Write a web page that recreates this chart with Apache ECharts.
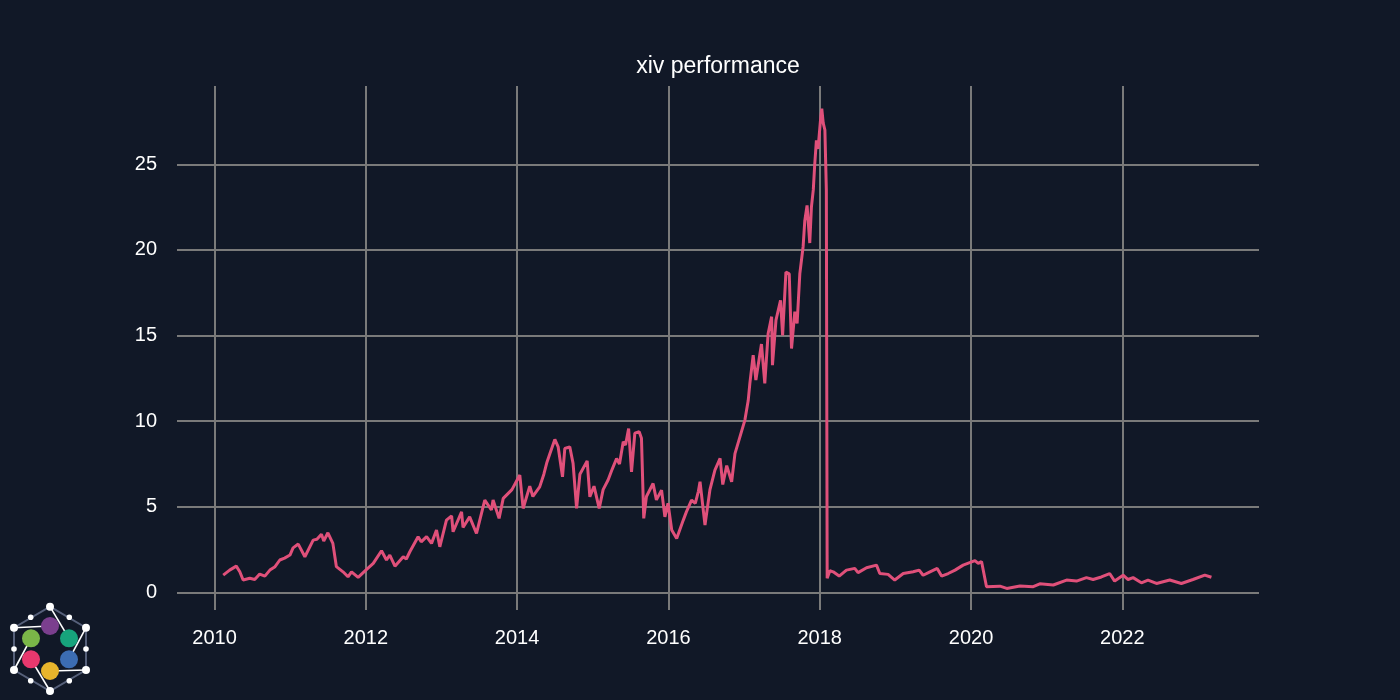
<!DOCTYPE html>
<html>
<head>
<meta charset="utf-8">
<title>xiv performance</title>
<script src="https://cdn.jsdelivr.net/npm/echarts@6/dist/echarts.min.js"></script>
<style>
  html, body { margin: 0; padding: 0; background: #111827; }
  #chart { width: 1400px; height: 700px; }
</style>
</head>
<body>
<div id="chart"></div>
<script>
// values (roughly every few weeks, peaks and dips kept)
const dates = [
  '2010-02-12', '2010-03-15', '2010-04-16', '2010-05-03', '2010-05-19', '2010-06-20', '2010-07-14', '2010-08-07', '2010-09-01', '2010-09-25', '2010-10-20', '2010-11-12', '2010-12-05', '2010-12-31',
  '2011-01-15', '2011-02-09', '2011-03-13', '2011-04-22', '2011-05-10', '2011-06-01', '2011-06-12', '2011-07-02', '2011-07-26', '2011-08-12', '2011-09-13', '2011-10-07', '2011-10-24', '2011-11-25',
  '2012-01-05', '2012-02-06', '2012-03-17', '2012-04-10', '2012-04-26', '2012-05-21', '2012-06-30', '2012-07-15', '2012-08-01', '2012-09-10', '2012-09-25', '2012-10-21', '2012-11-14', '2012-12-08', '2012-12-24',
  '2013-01-25', '2013-02-19', '2013-02-26', '2013-04-08', '2013-04-15', '2013-05-17', '2013-06-19', '2013-07-29', '2013-08-30', '2013-09-07', '2013-10-06', '2013-10-26', '2013-12-07',
  '2014-01-14', '2014-01-30', '2014-03-03', '2014-03-18', '2014-04-20', '2014-05-10', '2014-05-25', '2014-06-08', '2014-07-02', '2014-07-18', '2014-08-08', '2014-08-19', '2014-09-12', '2014-09-28', '2014-10-15', '2014-10-31', '2014-12-05', '2014-12-18',
  '2015-01-07', '2015-02-01', '2015-02-20', '2015-03-16', '2015-04-05', '2015-04-26', '2015-05-10', '2015-05-28', '2015-06-08', '2015-06-23', '2015-07-07', '2015-07-23', '2015-08-13', '2015-08-24', '2015-09-04', '2015-09-17', '2015-10-19', '2015-11-04', '2015-11-29', '2015-12-15', '2015-12-30',
  '2016-01-17', '2016-02-10', '2016-03-13', '2016-03-28', '2016-04-22', '2016-05-10', '2016-05-25', '2016-06-02', '2016-06-26', '2016-07-20', '2016-08-13', '2016-09-07', '2016-09-20', '2016-10-09', '2016-11-02', '2016-11-18', '2016-12-12',
  '2017-01-05', '2017-01-21', '2017-01-29', '2017-02-14', '2017-02-27', '2017-03-26', '2017-04-11', '2017-04-27', '2017-05-14', '2017-05-18', '2017-06-04', '2017-06-26', '2017-07-06', '2017-07-22',
  '2017-08-07', '2017-08-18', '2017-09-03', '2017-09-14', '2017-09-27', '2017-10-13', '2017-10-21', '2017-11-01', '2017-11-14', '2017-11-22', '2017-12-01', '2017-12-08', '2017-12-16', '2017-12-24',
  '2018-01-05', '2018-01-11', '2018-01-18', '2018-01-26', '2018-02-02', '2018-02-06', '2018-02-19', '2018-03-07', '2018-04-05', '2018-05-10', '2018-06-19', '2018-07-05', '2018-08-15', '2018-10-02', '2018-10-18', '2018-11-27', '2018-12-29',
  '2019-02-08', '2019-03-28', '2019-04-26', '2019-05-15', '2019-06-17', '2019-07-22', '2019-08-12', '2019-09-13', '2019-10-16', '2019-11-24',
  '2020-01-20', '2020-02-05', '2020-02-21', '2020-03-16', '2020-05-20', '2020-06-22', '2020-08-25', '2020-10-28', '2020-11-29',
  '2021-02-02', '2021-04-07', '2021-05-25', '2021-07-12', '2021-08-13', '2021-09-22', '2021-11-01', '2021-11-25',
  '2022-01-05', '2022-01-29', '2022-02-22', '2022-04-03', '2022-05-05', '2022-06-15', '2022-08-18', '2022-10-13', '2022-12-08',
  '2023-02-03', '2023-03-07'
]
const xiv = [
  1.01, 1.3, 1.53, 1.2, 0.72, 0.82, 0.75, 1.07, 0.95, 1.3, 1.5, 1.89, 2.0, 2.18,
  2.6, 2.82, 2.08, 3.05, 3.1, 3.4, 3.0, 3.48, 2.86, 1.5, 1.2, 0.91, 1.2, 0.88,
  1.34, 1.69, 2.43, 1.89, 2.18, 1.53, 2.08, 1.95, 2.37, 3.25, 2.95, 3.25, 2.86, 3.64, 2.66,
  4.22, 4.47, 3.54, 4.7, 3.79, 4.41, 3.44, 5.39, 4.81, 5.39, 4.32, 5.49, 6.0,
  6.85, 4.9, 6.2, 5.6, 6.16, 6.9, 7.6, 8.1, 8.93, 8.5, 6.75, 8.4, 8.5, 7.53, 4.9, 6.9, 7.68, 5.58,
  6.2, 4.9, 6.0, 6.56, 7.2, 7.82, 7.5, 8.8, 8.6, 9.57, 7.04, 9.3, 9.38, 9.0, 4.32, 5.6, 6.36, 5.4, 5.97, 4.41, 5.2,
  3.64, 3.15, 4.22, 4.7, 5.39, 5.2, 5.9, 6.46, 3.93, 6.0, 7.14, 7.82, 6.3, 7.4, 6.46, 8.1, 9.08,
  10.06, 11.2, 12.2, 13.85, 12.4, 14.5, 12.2, 15.1, 16.1, 13.27, 15.9, 17.06, 15.0, 18.7,
  18.6, 14.24, 16.4, 15.7, 18.6, 20.2, 21.7, 22.6, 20.4, 22.5, 23.5, 25.0, 26.4, 25.9,
  27.6, 28.25, 27.4, 27.0, 23.5, 0.82, 1.26, 1.2, 0.95, 1.3, 1.4, 1.15, 1.44, 1.59, 1.1, 1.05, 0.72,
  1.1, 1.2, 1.3, 1.0, 1.2, 1.4, 0.95, 1.1, 1.3, 1.59,
  1.85, 1.69, 1.8, 0.33, 0.36, 0.23, 0.37, 0.33, 0.5,
  0.43, 0.72, 0.66, 0.86, 0.75, 0.9, 1.1, 0.66,
  1.0, 0.75, 0.86, 0.56, 0.72, 0.52, 0.72, 0.52, 0.75,
  1.01, 0.88
]
const yTicks = [0, 5, 10, 15, 20, 25]
const xTicks = [2010, 2012, 2014, 2016, 2018, 2020, 2022]

// date string -> fractional year, so the x axis can be a plain value axis
function toYear(d) {
  const t = new Date(d + 'T00:00:00Z')
  const y = t.getUTCFullYear()
  const start = Date.UTC(y, 0, 1)
  const end = Date.UTC(y + 1, 0, 1)
  return y + (t - start) / (end - start)
}

const points = dates.map((d, i) => [toYear(d), xiv[i]])

const gridColor = '#7a7a7a'
const lineColor = '#e0507a'
const font = 'Liberation Sans, Arial, sans-serif'

const chart = echarts.init(document.getElementById('chart'))

// little hexagon logo, bottom left
const hex = [[50, 606.7], [86, 627.7], [86, 670], [50, 691], [14, 670], [14, 627.7]]
const mids = [[30.7, 617.3], [69.3, 617.3], [86, 649], [69.3, 680.7], [30.7, 680.7], [14, 649]]
const dots = [
  { c: [50, 626], color: '#7b3f8e' },
  { c: [69, 638.3], color: '#17a47c' },
  { c: [69, 659.3], color: '#3c6db3' },
  { c: [50, 671], color: '#e8b52c' },
  { c: [31, 659.3], color: '#e8386e' },
  { c: [31, 638.3], color: '#7ab648' }
]
const spokes = [
  [[14, 627.7], [50, 626]],
  [[50, 606.7], [69, 638.3]],
  [[86, 627.7], [69, 659.3]],
  [[86, 670], [50, 671]],
  [[50, 691], [31, 659.3]],
  [[14, 670], [31, 638.3]]
]
const logo = [
  { type: 'polygon', shape: { points: hex }, style: { fill: null, stroke: '#56607a', lineWidth: 2 }, silent: true }
]
spokes.forEach(s => logo.push({
  type: 'line', shape: { x1: s[0][0], y1: s[0][1], x2: s[1][0], y2: s[1][1] },
  style: { stroke: '#ffffff', lineWidth: 1.6 }, silent: true
}))
dots.forEach(d => logo.push({
  type: 'circle', shape: { cx: d.c[0], cy: d.c[1], r: 9 }, style: { fill: d.color }, silent: true
}))
hex.forEach(p => logo.push({
  type: 'circle', shape: { cx: p[0], cy: p[1], r: 4 }, style: { fill: '#ffffff' }, silent: true
}))
mids.forEach(p => logo.push({
  type: 'circle', shape: { cx: p[0], cy: p[1], r: 2.8 }, style: { fill: '#ffffff' }, silent: true
}))

chart.setOption({
  backgroundColor: '#111827',
  animation: false,
  title: {
    text: 'xiv performance',
    left: 713,
    top: 50,
    textAlign: 'center',
    textStyle: { color: '#ffffff', fontSize: 23, fontWeight: 'normal', fontFamily: font }
  },
  grid: { left: 177, right: 141, top: 86, bottom: 90 },
  xAxis: {
    type: 'value',
    min: 2009.504,
    max: 2023.807,
    splitNumber: 7,
    axisLine: { show: false },
    axisTick: { show: false },
    axisLabel: {
      color: '#ffffff', fontSize: 20, fontFamily: font, margin: 18,
      showMinLabel: false, showMaxLabel: false,
      formatter: v => (xTicks.indexOf(Math.round(v * 1000) / 1000) >= 0 ? String(v) : '')
    },
    splitLine: { show: true, showMinLine: false, showMaxLine: false, lineStyle: { color: gridColor, width: 2 } }
  },
  yAxis: {
    type: 'value',
    min: -1.03,
    max: 29.57,
    splitNumber: 6,
    axisLine: { show: false },
    axisTick: { show: false },
    axisLabel: {
      color: '#ffffff', fontSize: 20, fontFamily: font, margin: 20,
      showMinLabel: false, showMaxLabel: false,
      formatter: v => (yTicks.indexOf(Math.round(v * 1000) / 1000) >= 0 ? String(v) : '')
    },
    splitLine: { show: true, showMinLine: false, showMaxLine: false, lineStyle: { color: gridColor, width: 2 } }
  },
  graphic: logo,
  series: [{
    name: 'xiv',
    type: 'line',
    data: points,
    showSymbol: false,
    symbol: 'none',
    lineStyle: { color: lineColor, width: 3 },
    z: 3
  }]
})
</script>
</body>
</html>
